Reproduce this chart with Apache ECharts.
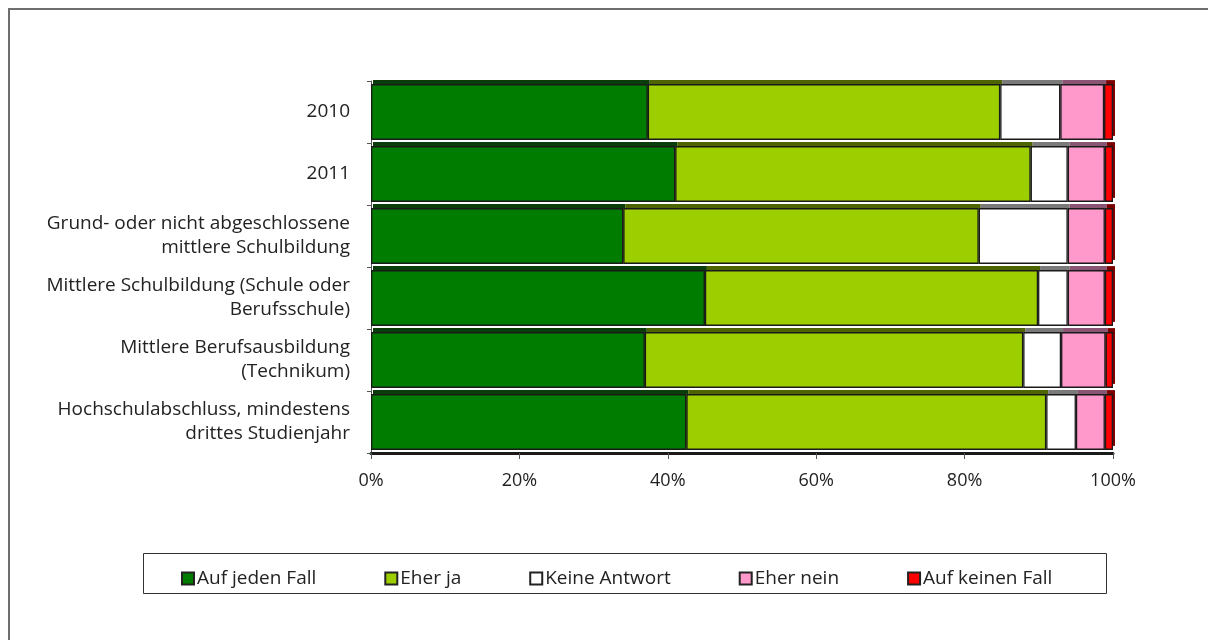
<!DOCTYPE html>
<html>
<head>
<meta charset="utf-8">
<script src="https://cdn.jsdelivr.net/npm/echarts@6/dist/echarts.min.js"></script>
<style>
  html, body { margin: 0; padding: 0; background: #fff; }
  #chart { width: 1208px; height: 640px; }
</style>
</head>
<body>
<div id="chart"></div>
<script>
// Survey groups (top to bottom)
const categories = [
  '2010',
  '2011',
  'Grund- oder nicht abgeschlossene\nmittlere Schulbildung',
  'Mittlere Schulbildung (Schule oder\nBerufsschule)',
  'Mittlere Berufsausbildung\n(Technikum)',
  'Hochschulabschluss, mindestens\ndrittes Studienjahr'
];

// Answer shares in percent per group
const aufJedenFall   = [37.3, 41.0, 34.0, 45.0, 36.9, 42.5];
const eherJa         = [47.5, 47.9, 47.9, 44.9, 51.0, 48.5];
const keineAntwort   = [8.1, 5.0, 12.0, 4.0, 5.1, 4.0];
const eherNein       = [5.9, 5.0, 5.0, 5.0, 6.0, 3.9];
const aufKeinenFall  = [1.2, 1.1, 1.1, 1.1, 1.0, 1.1];

const xTicks = [0, 20, 40, 60, 80, 100];

const seriesDefs = [
  { name: 'Auf jeden Fall',  data: aufJedenFall,  color: '#007d00', top: '#0b3d0b' },
  { name: 'Eher ja',         data: eherJa,        color: '#9dcf00', top: '#4e6400' },
  { name: 'Keine Antwort',   data: keineAntwort,  color: '#ffffff', top: '#7a7a7a' },
  { name: 'Eher nein',       data: eherNein,      color: '#ff99cc', top: '#8a5573' },
  { name: 'Auf keinen Fall', data: aufKeinenFall, color: '#ff0000', top: '#7a0000' }
];

const FONT = '"Open Sans", "DejaVu Sans", sans-serif';
const chart = echarts.init(document.getElementById('chart'), null, { renderer: 'canvas' });

// Filled segments carry a hard, offset shadow that reads as the bar's top face;
// a second, outline-only stack sits exactly on top to draw crisp edges.
const fillSeries = seriesDefs.map(s => ({
  name: s.name,
  type: 'bar',
  stack: 'fill',
  barCategoryGap: '10%',
  barGap: '-100%',
  data: s.data,
  itemStyle: {
    color: s.color,
    shadowColor: s.top,
    shadowBlur: 0,
    shadowOffsetX: 2,
    shadowOffsetY: -4
  },
  z: 2
}));
const edgeSeries = seriesDefs.map(s => ({
  name: s.name,
  type: 'bar',
  stack: 'edge',
  barCategoryGap: '10%',
  barGap: '-100%',
  data: s.data,
  itemStyle: { color: 'rgba(0,0,0,0)', borderColor: '#1a1a1a', borderWidth: 1.3 },
  z: 3
}));

chart.setOption({
  animation: false,
  backgroundColor: '#ffffff',
  grid: { left: 371, top: 81, width: 742, height: 372, containLabel: false },
  xAxis: {
    type: 'value',
    min: 0, max: 100, interval: 20,
    axisLine: { show: true, lineStyle: { color: '#1a1a1a', width: 3 } },
    axisTick: { show: true, length: 6, lineStyle: { color: '#555', width: 1 } },
    splitLine: { show: false },
    axisLabel: {
      margin: 19,
      color: '#222', fontSize: 18, fontFamily: FONT,
      formatter: v => xTicks.includes(v) ? v + '%' : ''
    }
  },
  yAxis: {
    type: 'category',
    inverse: true,
    data: categories,
    axisLine: { show: true, lineStyle: { color: '#555', width: 1 } },
    axisTick: { show: true, length: 4, lineStyle: { color: '#555' } },
    axisLabel: {
      margin: 21, color: '#222', fontSize: 19, fontFamily: FONT,
      lineHeight: 24, align: 'right'
    }
  },
  legend: {
    left: 176, top: 564,
    itemWidth: 12, itemHeight: 12, itemGap: 68,
    icon: 'rect',
    textStyle: { color: '#222', fontSize: 19, fontFamily: FONT, padding: [0, 0, 0, -2] },
    data: seriesDefs.map(s => ({
      name: s.name,
      itemStyle: { color: s.color, borderColor: '#222', borderWidth: 2 }
    }))
  },
  graphic: [
    // outer frame (left and top edges)
    { type: 'polyline', shape: { points: [[9, 640], [9, 9], [1208, 9]] },
      style: { stroke: '#6e6e6e', lineWidth: 2, fill: null }, silent: true },
    // legend box
    { type: 'rect', shape: { x: 143.5, y: 553.5, width: 963, height: 40 },
      style: { stroke: '#333', lineWidth: 1, fill: null }, silent: true, z: 0 }
  ],
  series: fillSeries.concat(edgeSeries)
});
</script>
</body>
</html>
